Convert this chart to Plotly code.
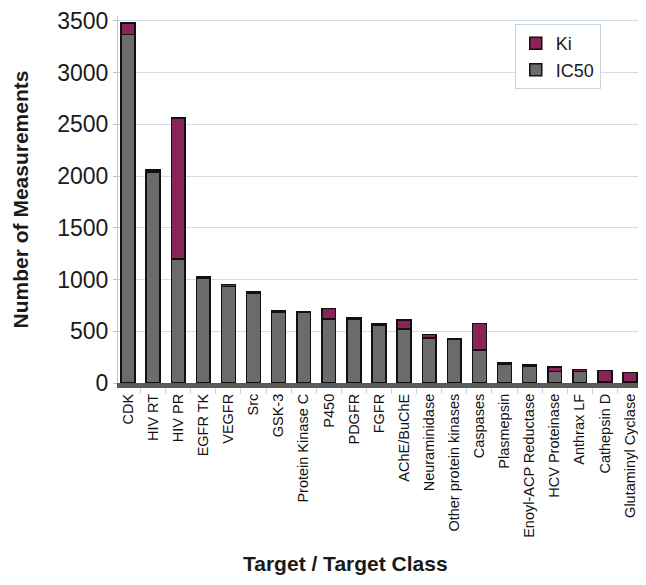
import plotly.graph_objects as go

categories = ["CDK", "HIV RT", "HIV PR", "EGFR TK", "VEGFR", "Src", "GSK-3",
              "Protein Kinase C", "P450", "PDGFR", "FGFR", "AChE/BuChE",
              "Neuraminidase", "Other protein kinases", "Caspases", "Plasmepsin",
              "Enoyl-ACP Reductase", "HCV Proteinase", "Anthrax LF", "Cathepsin D",
              "Glutaminyl Cyclase"]
ic50 = [3370, 2040, 1200, 1015, 935, 865, 685, 680, 620, 615, 560, 520,
        435, 420, 320, 185, 165, 110, 110, 15, 10]
ki = [110, 20, 1360, 15, 15, 15, 15, 10, 100, 15, 10, 90,
      35, 10, 255, 15, 15, 45, 20, 105, 90]
y_ticks = [0, 500, 1000, 1500, 2000, 2500, 3000, 3500]

fig = go.Figure()
fig.add_trace(go.Bar(x=categories, y=ic50, name="IC50",
                     marker=dict(color="#6b6b6b", line=dict(color="#111111", width=1.5))))
fig.add_trace(go.Bar(x=categories, y=ki, name="Ki",
                     marker=dict(color="#8a2357", line=dict(color="#111111", width=1.5))))

font = "Liberation Sans, Arial, sans-serif"
fig.update_layout(
    barmode="stack",
    bargap=0.45,
    width=630, height=569,
    margin=dict(l=110, r=0, t=6, b=194),
    paper_bgcolor="white", plot_bgcolor="white",
    font=dict(family=font, color="#1a1a1a"),
    showlegend=True,
    legend=dict(x=0.763, y=0.978, xanchor="left", yanchor="top",
                traceorder="reversed",
                bgcolor="white", bordercolor="#c8d4dc", borderwidth=1,
                font=dict(size=18, family=font, color="#1a1a1a"),
                itemwidth=30, tracegroupgap=4),
    xaxis=dict(range=[-0.4, 20.32], tickangle=-90,
               tickfont=dict(size=14.5, family=font, color="#111111"),
               ticklabeloverflow="allow",
               showline=True, linecolor="#5a5a5a", linewidth=5,
               ticks="outside", tickson="boundaries", ticklen=6, tickcolor="#c8d4dc"),
    yaxis=dict(range=[0, 3548], tickvals=y_ticks,
               tickfont=dict(size=23, family=font, color="#1a1a1a"),
               ticklabeloverflow="allow",
               showgrid=True, gridcolor="#cfdde6", gridwidth=1,
               showline=True, linecolor="#b8c6cf", linewidth=1,
               ticks="outside", ticklen=4, tickcolor="#b8c6cf",
               zeroline=False,
               title=dict(text="<b>Number of Measurements</b>", font=dict(size=21, family=font, color="#1a1a1a"),
                          standoff=22)),
    annotations=[dict(text="<b>Target / Target Class</b>", xref="paper", yref="paper",
                      x=0.438, y=-0.493, xanchor="center", yanchor="middle", showarrow=False,
                      font=dict(size=21, family=font, color="#1a1a1a"))],
)
fig.write_html("out.html")
